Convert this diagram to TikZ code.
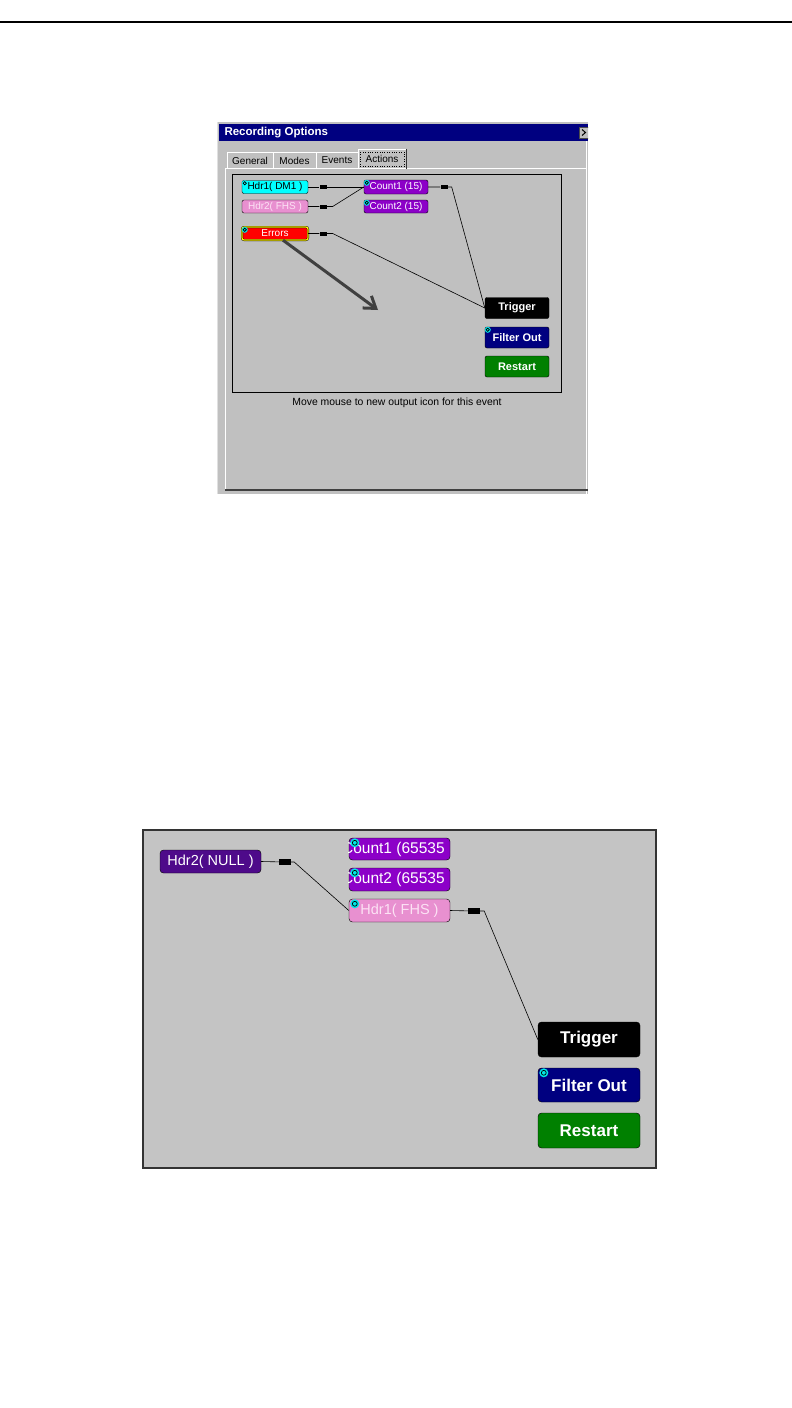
\documentclass[tikz,border=0pt]{standalone}
\usepackage{fontspec}
\setmainfont{Liberation Sans}
\usetikzlibrary{arrows.meta}
\definecolor{winGray}{HTML}{C0C0C0}
\definecolor{panGray}{HTML}{C4C4C4}
\definecolor{barNavy}{HTML}{000080}
\definecolor{hdrCyan}{HTML}{00FFFF}
\definecolor{hdrPink}{HTML}{E890D0}
\definecolor{pinkText}{HTML}{FCE2F4}
\definecolor{cntPurple}{HTML}{8C00C8}
\definecolor{nullPurple}{HTML}{4E0A8A}
\definecolor{outNavy}{HTML}{000080}
\definecolor{outGreen}{HTML}{008000}
\definecolor{errRed}{HTML}{FF0000}
\definecolor{ringCyan}{HTML}{00E6E6}
\definecolor{sketchGray}{HTML}{404040}
\newcommand{\fsz}[1]{\fontsize{#1}{#1}\selectfont}

\begin{document}
\begin{tikzpicture}[x=1pt, y=-1pt]
		\tikzset{tnode/.style = {shape=rectangle, draw, rounded corners=2pt, inner sep=0pt, minimum width=66pt, minimum height=13pt, text=white, font=\fsz{10}}}
		\tikzset{tout/.style = {tnode, minimum width=64pt, minimum height=21pt, font=\fsz{11}\bfseries}}
		\tikzset{bnode/.style = {shape=rectangle, draw, rounded corners=3.5pt, inner sep=0pt, minimum width=101pt, minimum height=23pt, text=white, font=\fsz{14.5}}}
		\tikzset{bout/.style = {bnode, minimum width=102pt, minimum height=35pt, font=\fsz{17}\bfseries}}
		\tikzset{tabbox/.style = {shape=rectangle, inner sep=0pt, minimum height=17pt, font=\fsz{10}}}
		\tikzset{plug/.style = {shape=rectangle, fill=black, inner sep=0pt, minimum width=7pt, minimum height=4pt}}
		\tikzset{ring/.style = {shape=circle, fill=ringCyan, inner sep=0pt, minimum size=#1, path picture={\draw[line width=0.7pt] (path picture bounding box.center) circle (0.27*#1);}}}
		\tikzset{wire/.style = {draw, line width=0.6pt}}

		\useasboundingbox (0,0) rectangle (792,1408);
		\draw[line width=2pt] (0,21.5) -- (792,21.5);

		% dialog window
		\begin{scope}
		\clip (217,122) rectangle (588,494);
		\fill[winGray] (217,122) rectangle (588,494);
		\draw[black!12] (217.5,122) -- (217.5,494);
		\fill[barNavy] (219,124) rectangle (588,141);
		\node[anchor=west, text=white, font=\fsz{11.5}\bfseries] (W_1) at (221,132.5) {Recording Options};
		\node[shape=rectangle, draw=black!70, fill=winGray, inner sep=0pt, minimum width=10pt, minimum height=11pt] (X_1) at (584,132.5) {};
		\draw[line width=1pt] ([shift={(-2,-3)}]X_1.center) -- ([shift={(1.5,0)}]X_1.center) -- ([shift={(-2,3)}]X_1.center);
		\draw[white] (586.5,141) -- (586.5,494);

		\node[tabbox, minimum width=46pt] (G_1) at (250,160.5) {General};
		\node[tabbox, minimum width=43pt] (G_2) at (294.5,160.5) {Modes};
		\node[tabbox, minimum width=42pt] (G_3) at (337,160.5) {Events};
		\node[tabbox, minimum width=48pt, minimum height=20pt] (G_4) at (382,159) {Actions};
		\draw[white] (225,490) -- (225,168.5) -- (587,168.5);
		\foreach \t in {G_1,G_2,G_3,G_4} {
			\draw[white] (\t.south west) -- (\t.north west) -- (\t.north east);
			\draw[black!80] (\t.north east) -- (\t.south east);
		}
		\draw[dotted] ([shift={(2.5,3)}]G_4.north west) rectangle ([shift={(-2.5,-3)}]G_4.south east);
		\draw[black!75, line width=1.5pt] (225,490) -- (588,490);
		\end{scope}

		\draw[line width=0.7pt] (232,174) rectangle (561,392);

		\node[tnode, fill=hdrCyan, text=black] (H_1) at (275,187) {Hdr1( DM1 )};
		\node[tnode, fill=hdrPink, text=pinkText] (H_2) at (275,206.5) {Hdr2( FHS )};
		\node[tnode, fill=errRed, draw=black, double=yellow, double distance=1.2pt] (E_1) at (275,233.5) {Errors};
		\node[tnode, fill=cntPurple, minimum width=64pt, minimum height=14pt] (C_1) at (396,187) {Count1 (15)};
		\node[tnode, fill=cntPurple, minimum width=64pt] (C_2) at (396,206.5) {Count2 (15)};
		\node[tout, fill=black] (T_1) at (517,308) {Trigger};
		\node[tout, fill=outNavy] (F_1) at (517,337.5) {Filter Out};
		\node[tout, fill=outGreen] (R_1) at (517,366.5) {Restart};

		\node[ring=6pt, fill=hdrCyan] (K_1) at ([shift={(3,3)}]H_1.north west) {};
		\node[ring=6pt] (K_2) at ([shift={(3,3)}]E_1.north west) {};
		\node[ring=6pt] (K_3) at ([shift={(3,3)}]C_1.north west) {};
		\node[ring=6pt] (K_4) at ([shift={(3,3)}]C_2.north west) {};
		\node[ring=6pt] (K_5) at ([shift={(3,3)}]F_1.north west) {};

		\node[plug] (P_1) at (323,187) {};
		\node[plug] (P_2) at (323,206.5) {};
		\node[plug] (P_3) at (444,187) {};
		\node[plug] (P_4) at (323,233.5) {};

		\draw[wire] (H_1.east) -- (P_1) -- (C_1.west);
		\draw[wire] (H_2.east) -- (P_2) -- ([xshift=6pt]P_2.east) -- (C_1.west);
		\draw[wire] (C_1.east) -- (P_3) -- ([xshift=4pt]P_3.east) -- (T_1.west);
		\draw[wire] (E_1.east) -- (P_4) -- ([xshift=6pt]P_4.east) -- (T_1.west);

		\coordinate (M_1) at (378,310);
		\draw[sketchGray, line width=3pt, -{Straight Barb[length=11pt, width=15pt]}] ([xshift=8pt]E_1.south) -- (M_1);

		\node[font=\fsz{10.4}] (L_1) at (397,403) {Move mouse to new output icon for this event};

		% lower panel
		\draw[fill=panGray, draw=black!80, line width=1.2pt] (143,830) rectangle (656,1168);

		\node[bnode, fill=nullPurple] (N_1) at (210.5,861.5) {Hdr2( NULL )};
		\node[bnode, fill=cntPurple, minimum height=22pt] (C_3) at (399.5,849) {};
		\node[bnode, fill=cntPurple] (C_4) at (399.5,879.5) {};
		\begin{scope}
		\clip (C_3.south west) rectangle (C_3.north east);
		\node[anchor=east, text=white, font=\fsz{15.5}] (C_3t) at ([xshift=-2pt]C_3.east) {Count1 (65535};
		\end{scope}
		\begin{scope}
		\clip (C_4.south west) rectangle (C_4.north east);
		\node[anchor=east, text=white, font=\fsz{15.5}] (C_4t) at ([xshift=-2pt]C_4.east) {Count2 (65535};
		\end{scope}
		\node[bnode, fill=hdrPink, text=pinkText] (F_2) at (399.5,910.5) {Hdr1( FHS )};
		\node[bout, fill=black] (T_2) at (589,1039.5) {Trigger};
		\node[bout, fill=outNavy, minimum height=34pt] (F_3) at (589,1085) {Filter Out};
		\node[bout, fill=outGreen] (R_2) at (589,1130.5) {Restart};

		\node[ring=9pt] (K_6) at ([shift={(6,5)}]C_3.north west) {};
		\node[ring=9pt] (K_7) at ([shift={(6,5)}]C_4.north west) {};
		\node[ring=9pt] (K_8) at ([shift={(6,5)}]F_2.north west) {};
		\node[ring=9pt] (K_9) at ([shift={(6,5)}]F_3.north west) {};

		\node[plug, minimum width=12pt, minimum height=6pt] (Q_1) at (285,862) {};
		\node[plug, minimum width=12pt, minimum height=6pt] (Q_2) at (474,911) {};

		\draw[wire] (N_1.east) -- (Q_1) -- ([xshift=3pt]Q_1.east) -- (F_2.west);
		\draw[wire] (F_2.east) -- (Q_2) -- ([xshift=4pt]Q_2.east) -- (T_2.west);

	\end{tikzpicture}
\end{document}
